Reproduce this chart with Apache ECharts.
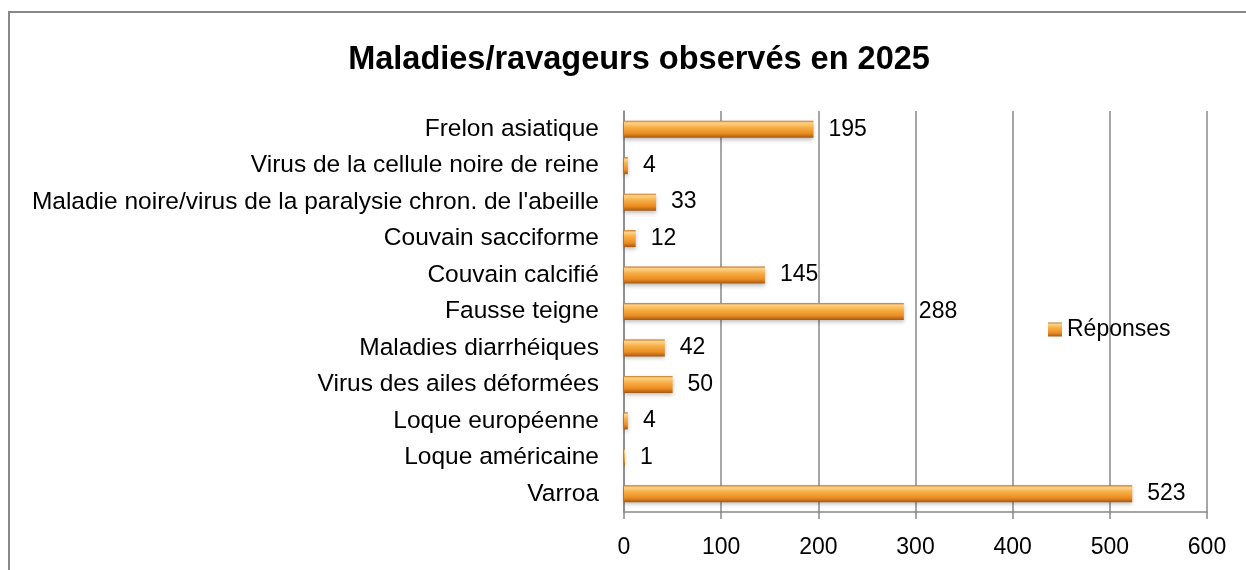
<!DOCTYPE html>
<html><head><meta charset="utf-8">
<script src="https://cdn.jsdelivr.net/npm/echarts@6/dist/echarts.min.js"></script>
<style>html,body{margin:0;padding:0;background:#fff}#c{width:1246px;height:570px}</style>
</head><body><div id="c"></div>
<script>
const categories = ["Varroa","Loque américaine","Loque européenne","Virus des ailes déformées","Maladies diarrhéiques","Fausse teigne","Couvain calcifié","Couvain sacciforme","Maladie noire/virus de la paralysie chron. de l'abeille","Virus de la cellule noire de reine","Frelon asiatique"];
const values = [523,1,4,50,42,288,145,12,33,4,195];
const seriesName = "Réponses";
const titleText = "Maladies/ravageurs observés en 2025";
const FONT = "'Liberation Sans', sans-serif";
const chart = echarts.init(document.getElementById('c'));
const barColor = new echarts.graphic.LinearGradient(0,0,0,1,[
  {offset:0,color:'#c8701c'},
  {offset:0.12,color:'#fbd48a'},
  {offset:0.38,color:'#f8b048'},
  {offset:0.75,color:'#ea8c22'},
  {offset:1,color:'#a65812'}
]);
chart.setOption({
  animation:false,
  title:{text:titleText,left:634,top:39,textAlign:'center',textStyle:{fontFamily:FONT,fontWeight:'bold',fontSize:32.5,color:'#000'}},
  graphic:[{type:'rect',shape:{x:9,y:12,width:1300,height:620},style:{fill:'none',stroke:'#888',lineWidth:2},silent:true}],
  legend:{data:[seriesName],left:1043,top:313,itemWidth:14,itemHeight:14,itemGap:7,icon:'rect',textStyle:{fontFamily:FONT,fontSize:23,color:'#000'}},
  grid:{left:624,right:39,top:111,bottom:58,containLabel:false},
  xAxis:{type:'value',min:0,max:600,interval:100,
    axisLine:{show:true,lineStyle:{color:'#888',width:1.5}},
    axisTick:{show:true,length:7,lineStyle:{color:'#888',width:1.5}},
    axisLabel:{fontFamily:FONT,fontSize:23,color:'#000',margin:24},
    splitLine:{show:true,lineStyle:{color:'#888',width:1.5}}},
  yAxis:{type:'category',data:categories,
    axisLine:{show:true,lineStyle:{color:'#888',width:1.5}},
    axisTick:{show:false},
    axisLabel:{fontFamily:FONT,fontSize:24.5,color:'#000',margin:25}},
  series:[{name:seriesName,type:'bar',data:values,barWidth:17,
    itemStyle:{color:barColor,shadowColor:'rgba(0,0,0,0.25)',shadowBlur:4,shadowOffsetY:2},
    label:{show:true,position:'right',distance:15,fontFamily:FONT,fontSize:23,color:'#000'}}]
});
</script></body></html>
